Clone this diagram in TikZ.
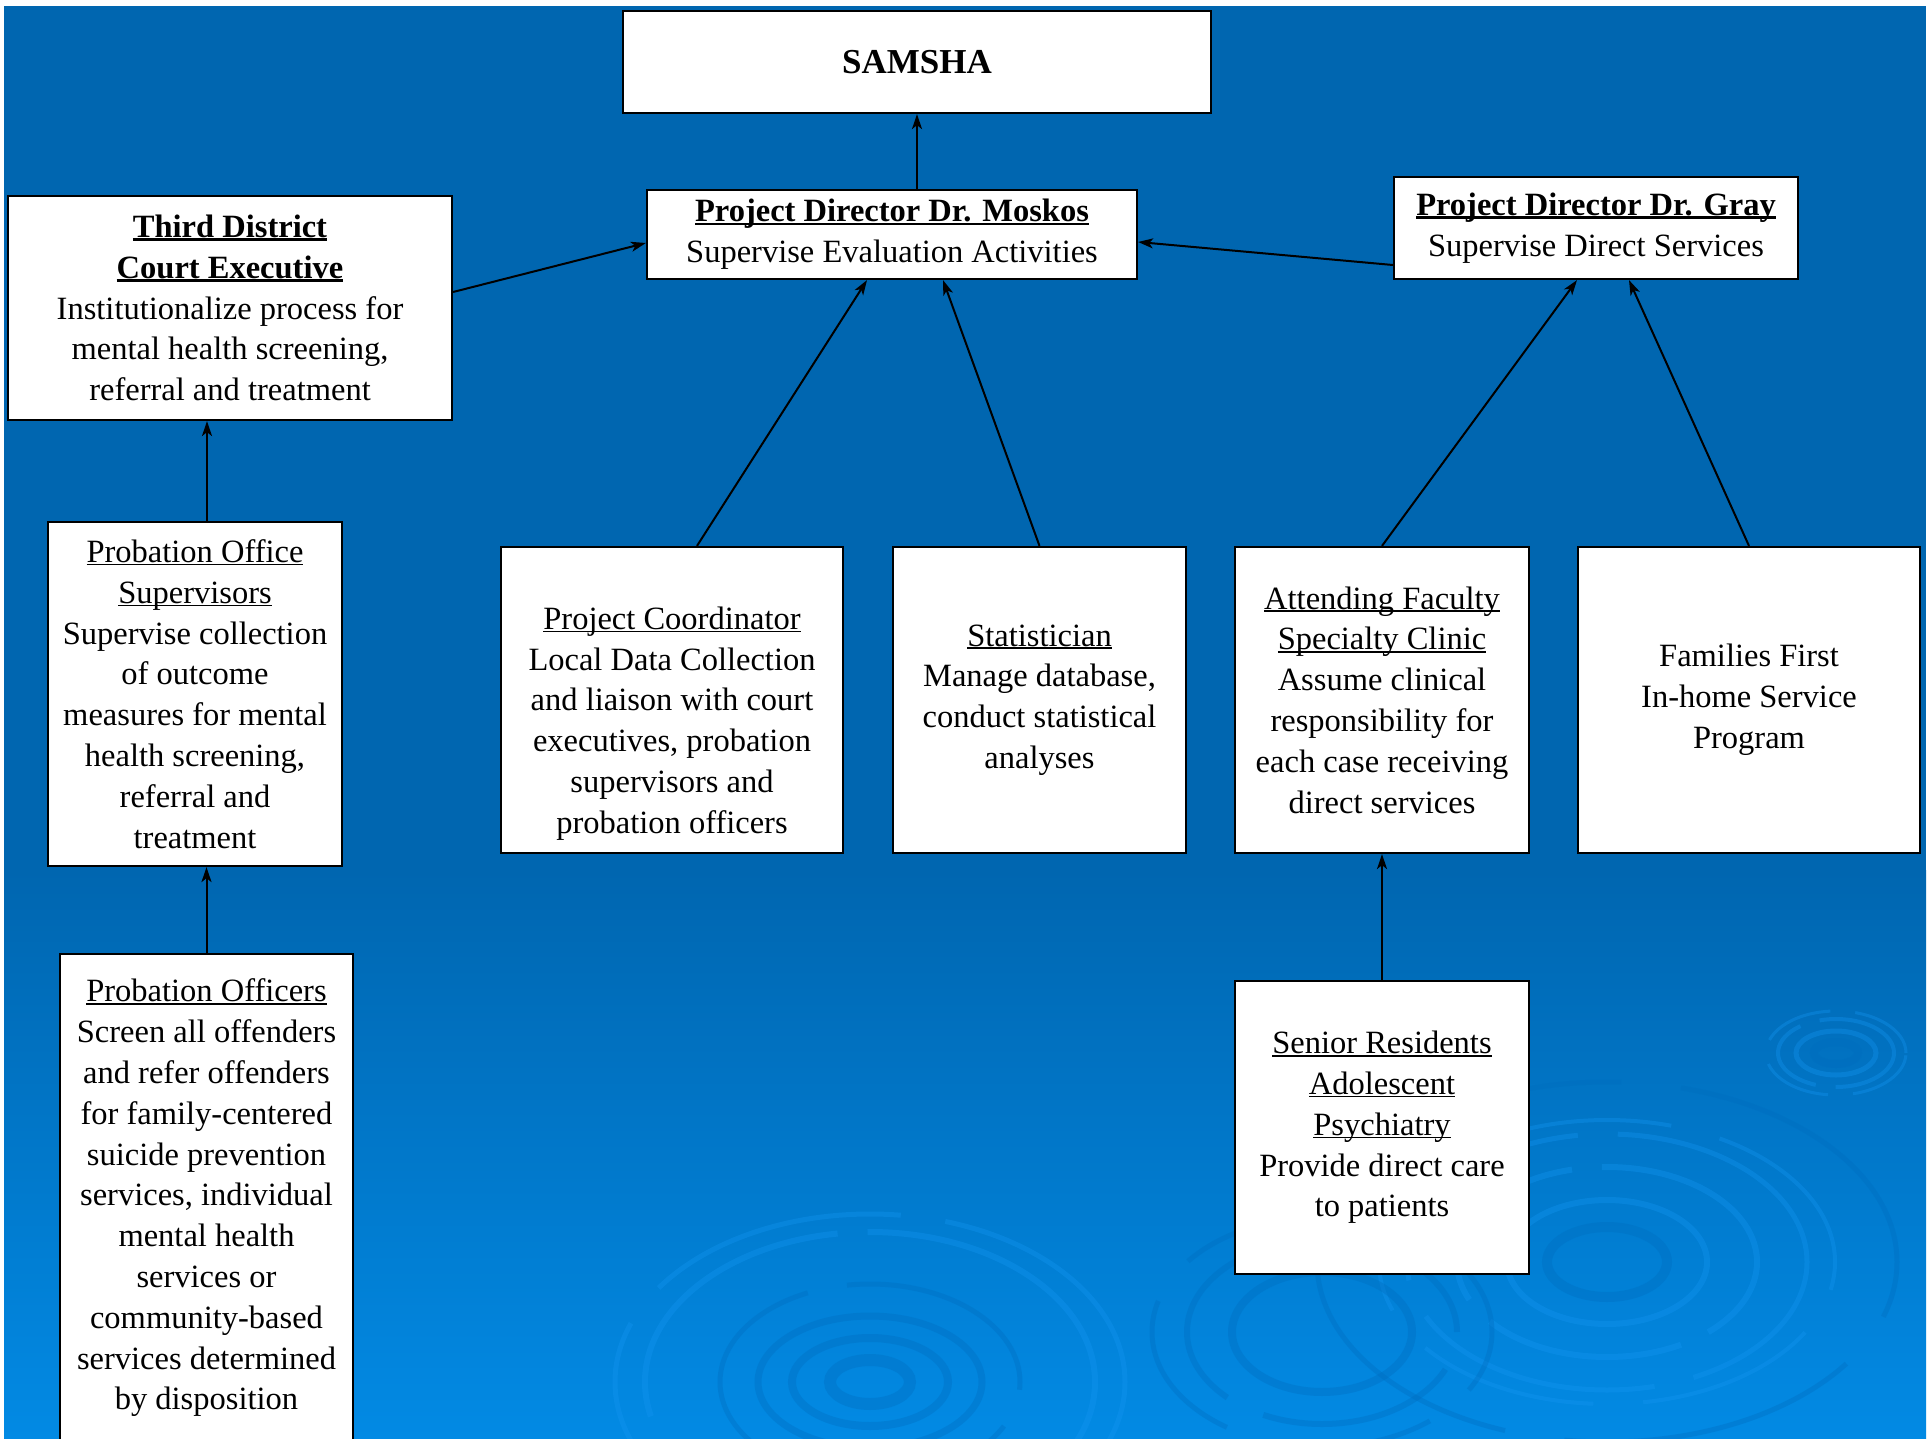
\documentclass[tikz,border=0pt]{standalone}
\usepackage{fontspec}
\setmainfont{Liberation Serif}
\usetikzlibrary{arrows.meta,calc}
\definecolor{bgtop}{RGB}{0,102,176}
\definecolor{bgbot}{RGB}{2,138,228}
\definecolor{ripdark}{RGB}{0,108,190}
\definecolor{riplight}{RGB}{20,150,242}
\newcommand\myul[1]{\setbox0=\hbox{#1}\rlap{\rule[-0.09em]{\wd0}{0.05em}}\box0}
\newcommand\myulb[1]{\setbox0=\hbox{#1}\rlap{\rule[-0.1em]{\wd0}{0.075em}}\box0}
\begin{document}
\begin{tikzpicture}[x=1pt,y=-1pt,
  box/.style={draw=black,fill=white,line width=2.2pt,inner sep=0pt,align=center,
    font=\fontsize{32.5}{40.8}\selectfont},
  arr/.style={line width=2pt,-{Stealth[length=15pt,width=10pt,inset=4pt]}},
  rd/.style={draw=ripdark,opacity=0.35},
  rl/.style={draw=riplight,opacity=0.35}]
\useasboundingbox (0,0) rectangle (1931,1439);
\fill[white] (0,0) rectangle (1931,1439);
\begin{scope}
\clip (4,6) rectangle (1926,1439);
\fill[bgtop] (4,6) rectangle (1926,871);
\shade[top color=bgtop,bottom color=bgbot] (4,870) rectangle (1926,1439);
% ripple bottom middle
\draw[rd,line width=12pt] (870,1382) ellipse [x radius=40pt,y radius=22pt];
\draw[rd,line width=8pt] (870,1382) ellipse [x radius=78pt,y radius=44pt];
\draw[rd,line width=7pt] (870,1382) ellipse [x radius=112pt,y radius=66pt];
\draw[rd,line width=5pt,dash pattern=on 220pt off 40pt] (870,1382) ellipse [x radius=150pt,y radius=98pt];
\draw[rl,line width=6pt,dash pattern=on 300pt off 30pt] (870,1382) ellipse [x radius=225pt,y radius=150pt];
\draw[rl,line width=5pt,dash pattern=on 260pt off 45pt] (870,1382) ellipse [x radius=255pt,y radius=168pt];
% ripple bottom right
\draw[rd,line width=10pt] (1607,1262) ellipse [x radius=60pt,y radius=35pt];
\draw[rl,line width=6pt] (1607,1262) ellipse [x radius=100pt,y radius=62pt];
\draw[rl,line width=6pt,dash pattern=on 200pt off 30pt] (1607,1262) ellipse [x radius=150pt,y radius=95pt];
\draw[rl,line width=5pt,dash pattern=on 250pt off 40pt] (1607,1262) ellipse [x radius=200pt,y radius=128pt];
\draw[rl,line width=4pt,dash pattern=on 180pt off 50pt] (1607,1262) ellipse [x radius=228pt,y radius=142pt];
\draw[rd,line width=5pt,dash pattern=on 300pt off 60pt] (1607,1262) ellipse [x radius=290pt,y radius=180pt];
% ripple small
\draw[rd,line width=8pt] (1836,1053) ellipse [x radius=22pt,y radius=11pt];
\draw[rl,line width=5pt] (1836,1053) ellipse [x radius=40pt,y radius=22pt];
\draw[rl,line width=4pt,dash pattern=on 90pt off 20pt] (1836,1053) ellipse [x radius=58pt,y radius=34pt];
\draw[rl,line width=3pt,dash pattern=on 70pt off 25pt] (1836,1053) ellipse [x radius=70pt,y radius=42pt];
% ripple under senior box
\draw[rd,line width=8pt] (1322,1332) ellipse [x radius=90pt,y radius=60pt];
\draw[rd,line width=6pt,dash pattern=on 200pt off 40pt] (1322,1332) ellipse [x radius=135pt,y radius=92pt];
\draw[rd,line width=5pt,dash pattern=on 160pt off 50pt] (1322,1332) ellipse [x radius=170pt,y radius=115pt];
\end{scope}

\node[box,minimum width=588pt,minimum height=102pt] (samsha) at (917,62)
  {\fontsize{35}{40}\selectfont\textbf{SAMSHA}};
\node[box,minimum width=490pt,minimum height=89pt] (moskos) at (892,234.5)
  {\textbf{\myulb{Project Director Dr. Moskos}}\\Supervise Evaluation Activities};
\node[box,minimum width=404pt,minimum height=102pt] (gray) at (1596,228)
  {\textbf{\myulb{Project Director Dr. Gray}}\\Supervise Direct Services};
\node[box,minimum width=444pt,minimum height=224pt] (third) at (230,308)
  {\textbf{\myulb{Third District}}\\\textbf{\myulb{Court Executive}}\\Institutionalize process for\\mental health screening,\\referral and treatment};
\node[box,minimum width=294pt,minimum height=344pt] (sup) at (195,694)
  {\myul{Probation Office}\\\myul{Supervisors}\\Supervise collection\\of outcome\\measures for mental\\health screening,\\referral and\\treatment};
\node[box,minimum width=293pt,minimum height=488pt] (off) at (206.5,1198)
  {\myul{Probation Officers}\\Screen all offenders\\and refer offenders\\for family-centered\\suicide prevention\\services, individual\\mental health\\services or\\community-based\\services determined\\by disposition};
\node[box,minimum width=342pt,minimum height=306pt] (coord) at (672,700)
  {\strut\\\myul{Project Coordinator}\\Local Data Collection\\and liaison with court\\executives, probation\\supervisors and\\probation officers};
\node[box,minimum width=293pt,minimum height=306pt] (stat) at (1039.5,700)
  {\myul{Statistician}\\Manage database,\\conduct statistical\\analyses};
\node[box,minimum width=294pt,minimum height=306pt] (att) at (1382,700)
  {\myul{Attending Faculty}\\\myul{Specialty Clinic}\\Assume clinical\\responsibility for\\each case receiving\\direct services};
\node[box,minimum width=342pt,minimum height=306pt] (fam) at (1749,700)
  {Families First\\In-home Service\\Program};
\node[box,minimum width=294pt,minimum height=293pt] (sen) at (1382,1127.5)
  {\myul{Senior Residents}\\\myul{Adolescent}\\\myul{Psychiatry}\\Provide direct care\\to patients};

\draw[arr] ([xshift=25pt]moskos.north) -- (samsha.south);
\draw[arr] ([yshift=16pt]third.east) -- ([yshift=-8.5pt]moskos.west);
\draw[arr] ([yshift=-37pt]gray.west) -- ([yshift=-7.5pt]moskos.east);
\draw[arr] ([xshift=25pt]coord.north) -- ([xshift=-25pt]moskos.south);
\draw[arr] (stat.north) -- ([xshift=51pt]moskos.south);
\draw[arr] (att.north) -- ([xshift=-19pt]gray.south);
\draw[arr] (fam.north) -- ([xshift=33pt]gray.south);
\draw[arr] ([xshift=12pt]sup.north) -- ([xshift=12pt]sup.north |- third.south);
\draw[arr] (off.north) -- (off.north |- sup.south);
\draw[arr] (sen.north) -- (att.south);
\end{tikzpicture}
\end{document}
